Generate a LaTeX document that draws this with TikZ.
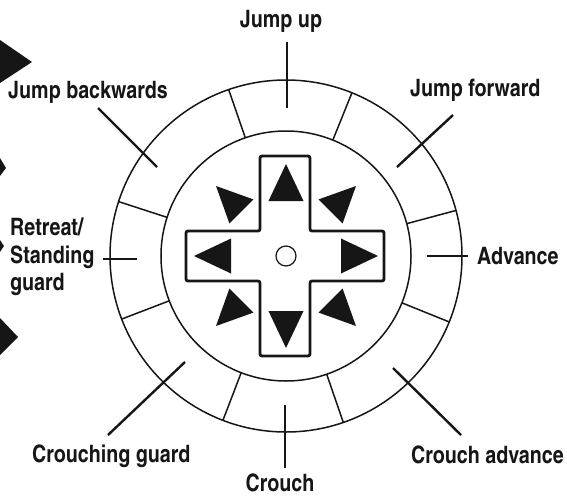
\documentclass[tikz,border=0pt]{standalone}
\usepackage{fontspec}
\setmainfont{texgyreheroscn}[Extension=.otf,UprightFont=*-bold,BoldFont=*-bold]
\usetikzlibrary{calc}
\definecolor{padink}{RGB}{22,22,22}
\tikzset{
  ring/.style={draw=padink,line width=1.5pt},
  callout/.style={draw=padink,line width=2.4pt},
  lbl/.style={font=\fontsize{24}{27.5}\selectfont,text=padink,inner sep=0pt},
  padarm/.style={draw=padink,line width=2.8pt,rounded corners=2pt,fill=white},
  hub/.style={circle,draw=padink,line width=1.2pt,minimum size=20pt,inner sep=0pt},
}

\begin{document}
\begin{tikzpicture}[x=1pt,y=1pt]
  \useasboundingbox (-286,-240) rectangle (281,256);
  \fill[white] (-286,-240) rectangle (281,256);

  % bits of the facing page
  \fill[padink] (-286,216) -- (-254,194) -- (-286,173) -- cycle;
  \fill[padink] (-286,98) -- (-280,88) -- (-286,80) -- cycle;
  \fill[padink] (-286,16) -- (-282,10) -- (-286,4) -- cycle;
  \fill[padink] (-286,-62) -- (-268,-81) -- (-286,-99) -- cycle;

  % ring
  \coordinate (C) at (0,0);
  \draw[ring] (C) circle (176pt);
  \draw[ring] (C) circle (125pt);
  \foreach \a in {15,68,109,162,201,249,289,338}
    \draw[ring] (\a:125) -- (\a:176);

  % d-pad
  \draw[padarm] (-26,100) -- (24,100) -- (24,25) -- (98,25) -- (98,-25)
    -- (24,-25) -- (24,-100) -- (-26,-100) -- (-26,-25) -- (-100,-25)
    -- (-100,25) -- (-26,25) -- cycle;
  \node[hub] (hub) at (C) {};
  \foreach \a in {0,90,180,270}
    \fill[padink,rotate=\a] (92,0) -- (55,17.5) -- (55,-17.5) -- cycle;
  \foreach \a in {45,135,225,315}
    \fill[padink,rotate=\a] (99,0) -- (63,17) -- (63,-17) -- cycle;

  % labels
  \node[lbl,anchor=base] (jumpup) at (-5,229) {Jump up};
  \node[lbl,anchor=base west] (jumpback) at (-278,158) {Jump backwards};
  \node[lbl,anchor=base west] (jumpfwd) at (124,160) {Jump forward};
  \node[lbl,anchor=base west] (advance) at (191,-8) {Advance};
  \node[lbl,anchor=west,align=left] (retreat) at (-276,-1) {Retreat/\\Standing\\guard};
  \node[lbl,anchor=base west] (crguard) at (-254,-206) {Crouching guard};
  \node[lbl,anchor=base west] (cradv) at (125,-207) {Crouch advance};
  \node[lbl,anchor=base] (crouch) at (-6,-235) {Crouch};

  % callouts
  \coordinate (up-o) at (1,214);      \coordinate (up-i) at (1,148);
  \coordinate (back-o) at (-188,148); \coordinate (back-i) at (-129,89);
  \coordinate (fwd-o) at (167,141);   \coordinate (fwd-i) at (111,89);
  \coordinate (adv-o) at (182,0);     \coordinate (adv-i) at (141,0);
  \coordinate (cadv-o) at (175,-179); \coordinate (cadv-i) at (107,-112);
  \coordinate (cr-o) at (-1,-212);    \coordinate (cr-i) at (-1,-149);
  \coordinate (cg-o) at (-178,-179);  \coordinate (cg-i) at (-101,-106);
  \coordinate (ret-o) at (-183,-3);   \coordinate (ret-i) at (-149,-3);
  \foreach \n in {up,back,fwd,adv,cadv,cr,cg,ret}
    \draw[callout] (\n-o) -- (\n-i);
\end{tikzpicture}
\end{document}
